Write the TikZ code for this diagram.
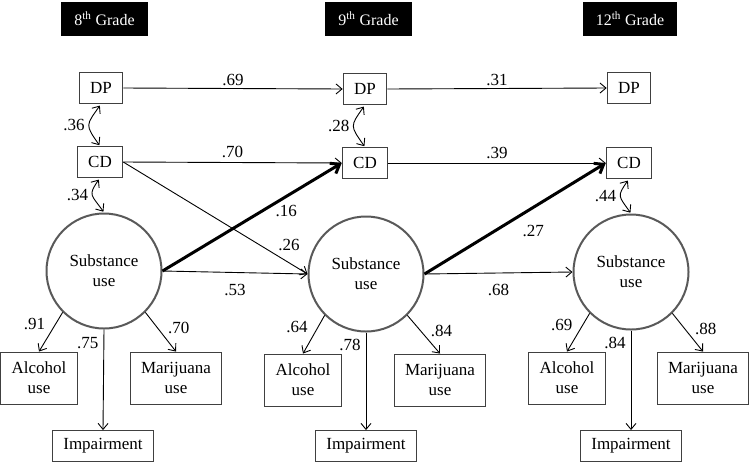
\documentclass[tikz,border=0pt]{standalone}
\usepackage{fontspec}
\setmainfont{Liberation Serif}
\usepackage{tikz}
\usetikzlibrary{arrows.meta}
\tikzset{
>={Straight Barb[length=6pt,width=10pt]},
  gradehead/.style={
    rectangle,
    fill=black,
    text=white,
    inner xsep=13pt,
    minimum height=34pt,
    font=\fontsize{16}{19}\selectfont},
  varbox/.style={
    rectangle,
    draw=black!75, line width=0.9pt,
    inner xsep=11pt,
    minimum height=31pt,
    align=center},
  twobox/.style={varbox, minimum height=52pt},
  latent/.style={
    circle,
    draw=black!65, line width=2pt,
    minimum size=115pt,
    align=center},
  regline/.style={draw, ->, line width=0.9pt},
  boldline/.style={draw, -{Straight Barb[length=8pt,width=12pt]}, line width=3pt},
  covline/.style={draw, <->, line width=0.9pt, shorten <=2pt, shorten >=1pt},
  coef/.style={inner sep=2pt},
}

\begin{document}
\begin{tikzpicture}[x=1pt, y=1pt, font=\fontsize{17}{20}\selectfont]
     \useasboundingbox (0,0) rectangle (752,-464);
     \node[gradehead] (GradeEight)  at (104.5,-19) {8\textsuperscript{th} Grade};
     \node[gradehead] (GradeNine)   at (368.5,-19) {9\textsuperscript{th} Grade};
     \node[gradehead] (GradeTwelve) at (630,-19)   {12\textsuperscript{th} Grade};

     \node[varbox] (DPEight)  at (101,-88)  {DP};
     \node[varbox] (DPNine)   at (365,-89)  {DP};
     \node[varbox] (DPTwelve) at (629,-88)  {DP};
     \node[varbox] (CDEight)  at (100,-162) {CD};
     \node[varbox] (CDNine)   at (365,-163) {CD};
     \node[varbox] (CDTwelve) at (629,-163) {CD};

     \node[latent] (SubEight)  at (104,-271) {Substance\\use};
     \node[latent] (SubNine)   at (366,-274) {Substance\\use};
     \node[latent] (SubTwelve) at (631,-272) {Substance\\use};

     \node[twobox] (AlcEight)  at (39,-378)  {Alcohol\\use};
     \node[twobox] (MarEight)  at (176,-378) {Marijuana\\use};
     \node[varbox] (ImpEight)  at (103,-446) {Impairment};
     \node[twobox] (AlcNine)   at (303,-380) {Alcohol\\use};
     \node[twobox] (MarNine)   at (440,-380) {Marijuana\\use};
     \node[varbox] (ImpNine)   at (366,-446) {Impairment};
     \node[twobox] (AlcTwelve) at (567,-378) {Alcohol\\use};
     \node[twobox] (MarTwelve) at (703,-378) {Marijuana\\use};
     \node[varbox] (ImpTwelve) at (631,-446) {Impairment};

     \path[regline] (DPEight.east) -- (DPNine.west) node[coef, midway, above] {.69};
     \path[regline] (DPNine.east) -- (DPTwelve.west) node[coef, midway, above] {.31};
     \path[regline] (CDEight.east) -- (CDNine.west) node[coef, midway, above=2pt] {.70};
     \path[regline] (CDNine.east) -- (CDTwelve.west) node[coef, midway, above=2pt] {.39};
     \path[regline] (CDEight.east) -- (SubNine.west) node[coef, pos=.9, above=10pt] {.26};
     \path[regline] (SubEight.east) -- (SubNine.west) node[coef, midway, below=9pt] {.53};
     \path[regline] (SubNine.east) -- (SubTwelve.west) node[coef, midway, below=9pt] {.68};
     \path[boldline] (SubEight.east) -- (CDNine.west) node[coef, pos=.69, below=5pt] {.16};
     \path[boldline] (SubNine.east) -- (CDTwelve.west) node[coef, pos=.6, below=14pt] {.27};

     \path[covline] (DPEight.south) to[out=235, in=125, looseness=1.6] node[coef, left=2pt] {.36} (CDEight.north);
     \path[covline] (CDEight.south) to[out=235, in=125, looseness=1.6] node[coef, left=2pt] {.34} (SubEight.north);
     \path[covline] (DPNine.south) to[out=235, in=125, looseness=1.6] node[coef, left=2pt] {.28} (CDNine.north);
     \path[covline] (CDTwelve.south) to[out=235, in=125, looseness=1.6] node[coef, left=2pt] {.44} (SubTwelve.north);

     \path[regline] (SubEight.225) -- (AlcEight.north) node[coef, pos=.3, left=8pt] {.91};
     \path[regline] (SubEight.south) -- (ImpEight.north) node[coef, pos=.13, left=3pt] {.75};
     \path[regline] (SubEight.315) -- (MarEight.north) node[coef, pos=.4, right=8pt] {.70};
     \path[regline] (SubNine.225) -- (AlcNine.north) node[coef, pos=.3, left=8pt] {.64};
     \path[regline] (SubNine.south) -- (ImpNine.north) node[coef, pos=.13, left=3pt] {.78};
     \path[regline] (SubNine.315) -- (MarNine.north) node[coef, pos=.4, right=8pt] {.84};
     \path[regline] (SubTwelve.225) -- (AlcTwelve.north) node[coef, pos=.3, left=8pt] {.69};
     \path[regline] (SubTwelve.south) -- (ImpTwelve.north) node[coef, pos=.13, left=3pt] {.84};
     \path[regline] (SubTwelve.315) -- (MarTwelve.north) node[coef, pos=.4, right=8pt] {.88};
\end{tikzpicture}
\end{document}
